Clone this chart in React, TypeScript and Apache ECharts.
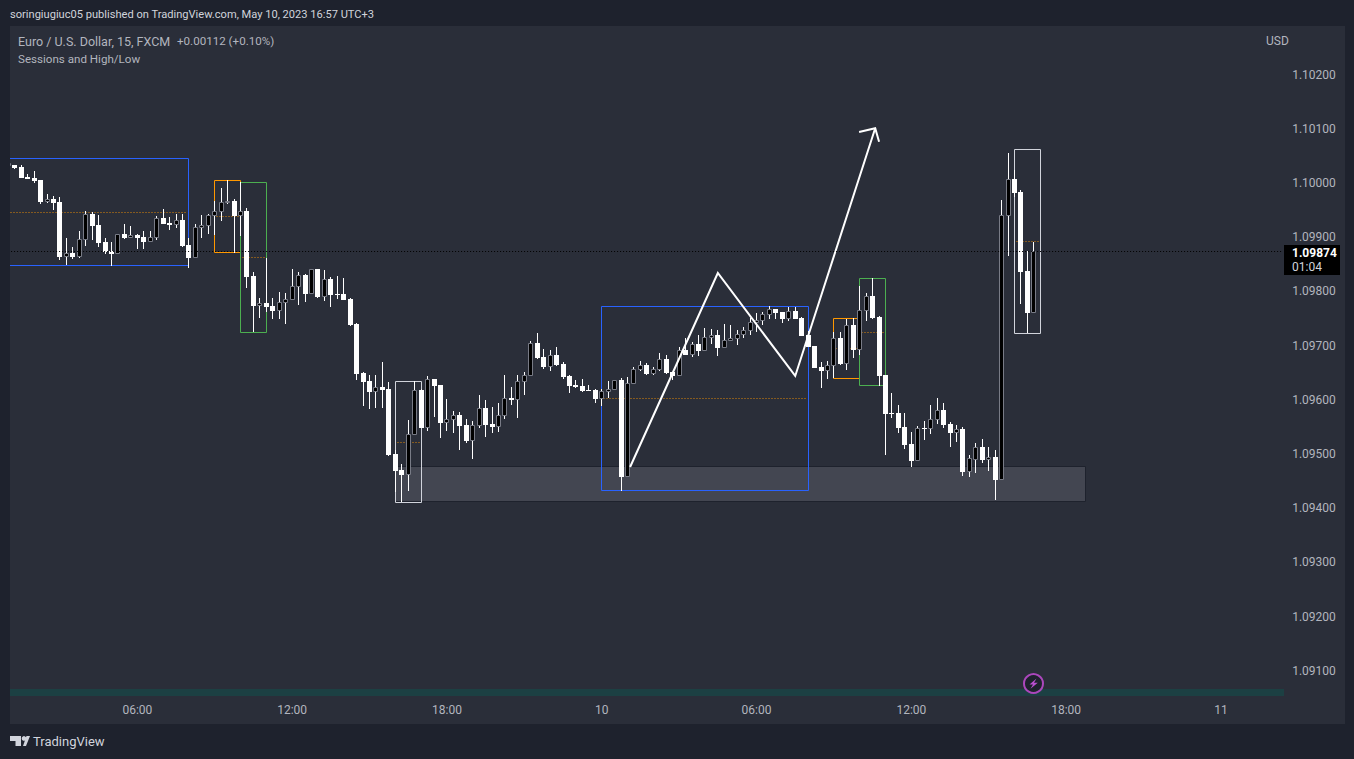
import React, { useEffect, useRef } from "react";
import * as echarts from "echarts";

const opens = [
  1.10031,
  1.10033,1.10030,1.10011,1.10009,1.10006,1.09965,1.09970,1.09965,1.09863,1.09871,
  1.09863,1.09895,1.09943,1.09922,1.09891,1.09875,1.09869,1.09906,1.09898,1.09904,
  1.09900,1.09891,1.09898,1.09935,1.09926,1.09922,1.09932,1.09886,1.09862,1.09917,
  1.09921,1.09939,1.09947,1.09963,1.09967,1.09939,1.09948,1.09828,1.09773,1.09779,
  1.09773,1.09764,1.09779,1.09784,1.09808,1.09830,1.09795,1.09841,1.09790,1.09823,
  1.09795,1.09795,1.09786,1.09740,1.09650,1.09635,1.09614,1.09624,1.09620,1.09500,
  1.09470,1.09461,1.09535,1.09618,1.09548,1.09638,1.09627,1.09557,1.09563,1.09572,
  1.09554,1.09524,1.09552,1.09585,1.09555,1.09550,1.09570,1.09603,1.09600,1.09633,
  1.09644,1.09705,1.09679,1.09660,1.09683,1.09666,1.09644,1.09627,1.09625,1.09618,
  1.09618,1.09601,1.09614,1.09618,1.09636,1.09458,1.09629,1.09655,1.09664,1.09648,
  1.09655,1.09675,1.09651,1.09644,1.09692,1.09683,1.09703,1.09690,1.09714,1.09720,
  1.09696,1.09708,1.09712,1.09720,1.09727,1.09742,1.09745,1.09756,1.09768,1.09762,
  1.09749,1.09764,1.09751,1.09720,1.09699,1.09660,1.09653,1.09662,1.09714,1.09666,
  1.09738,1.09692,1.09764,1.09792,1.09753,1.09646,1.09576,1.09576,1.09550,1.09518,
  1.09487,1.09548,1.09546,1.09563,1.09581,1.09555,1.09539,1.09546,1.09467,1.09489,
  1.09513,1.09489,1.09494,1.09452,1.09939,1.10007,1.09983,1.09838,1.09760,
];
const closes = [
  1.10037,
  1.10028,1.10009,1.10007,1.10004,1.09965,1.09970,1.09963,1.09863,1.09870,1.09863,
  1.09897,1.09943,1.09921,1.09889,1.09873,1.09869,1.09906,1.09898,1.09904,1.09898,
  1.09891,1.09900,1.09935,1.09924,1.09922,1.09932,1.09884,1.09862,1.09919,1.09923,
  1.09941,1.09948,1.09965,1.09967,1.09939,1.09948,1.09827,1.09773,1.09779,1.09771,
  1.09764,1.09780,1.09786,1.09810,1.09830,1.09795,1.09841,1.09790,1.09823,1.09793,
  1.09793,1.09784,1.09738,1.09648,1.09633,1.09614,1.09624,1.09618,1.09498,1.09469,
  1.09461,1.09537,1.09618,1.09548,1.09638,1.09625,1.09557,1.09565,1.09572,1.09552,
  1.09524,1.09554,1.09585,1.09554,1.09550,1.09572,1.09603,1.09600,1.09635,1.09646,
  1.09705,1.09677,1.09660,1.09683,1.09664,1.09642,1.09625,1.09624,1.09616,1.09617,
  1.09601,1.09616,1.09620,1.09636,1.09458,1.09631,1.09657,1.09664,1.09648,1.09657,
  1.09675,1.09649,1.09644,1.09692,1.09683,1.09703,1.09690,1.09716,1.09720,1.09696,
  1.09710,1.09714,1.09721,1.09729,1.09744,1.09747,1.09758,1.09768,1.09760,1.09749,
  1.09764,1.09749,1.09718,1.09697,1.09659,1.09653,1.09664,1.09714,1.09666,1.09738,
  1.09692,1.09766,1.09792,1.09751,1.09644,1.09574,1.09574,1.09548,1.09517,1.09487,
  1.09548,1.09546,1.09565,1.09581,1.09553,1.09539,1.09546,1.09467,1.09493,1.09513,
  1.09489,1.09494,1.09452,1.09941,1.10007,1.09982,1.09836,1.09760,1.09874,
];
const lows = [
  1.10031,
  1.10026,1.10009,1.10007,1.10000,1.09961,1.09963,1.09950,1.09858,1.09849,1.09860,
  1.09862,1.09884,1.09895,1.09882,1.09869,1.09847,1.09869,1.09897,1.09898,1.09878,
  1.09878,1.09891,1.09895,1.09924,1.09913,1.09917,1.09882,1.09843,1.09862,1.09899,
  1.09906,1.09904,1.09930,1.09961,1.09871,1.09902,1.09806,1.09725,1.09751,1.09762,
  1.09749,1.09749,1.09740,1.09784,1.09775,1.09780,1.09795,1.09788,1.09782,1.09771,
  1.09786,1.09784,1.09736,1.09637,1.09589,1.09583,1.09585,1.09585,1.09496,1.09430,
  1.09412,1.09432,1.09535,1.09548,1.09542,1.09568,1.09530,1.09542,1.09539,1.09507,
  1.09520,1.09491,1.09548,1.09531,1.09539,1.09541,1.09565,1.09590,1.09566,1.09609,
  1.09644,1.09675,1.09657,1.09653,1.09662,1.09638,1.09613,1.09622,1.09614,1.09616,
  1.09594,1.09589,1.09603,1.09618,1.09432,1.09458,1.09629,1.09653,1.09646,1.09646,
  1.09653,1.09648,1.09637,1.09644,1.09683,1.09679,1.09681,1.09690,1.09703,1.09681,
  1.09696,1.09708,1.09701,1.09714,1.09720,1.09725,1.09738,1.09749,1.09749,1.09742,
  1.09745,1.09749,1.09718,1.09697,1.09659,1.09622,1.09638,1.09640,1.09664,1.09655,
  1.09677,1.09683,1.09745,1.09749,1.09625,1.09498,1.09566,1.09539,1.09509,1.09476,
  1.09487,1.09526,1.09537,1.09555,1.09548,1.09513,1.09522,1.09459,1.09457,1.09465,
  1.09483,1.09469,1.09415,1.09452,1.09865,1.09975,1.09777,1.09723,1.09760,
];
const highs = [
  1.10037,
  1.10033,1.10033,1.10017,1.10022,1.10006,1.09980,1.09976,1.09974,1.09898,1.09882,
  1.09911,1.09948,1.09946,1.09941,1.09898,1.09891,1.09906,1.09924,1.09921,1.09906,
  1.09911,1.09911,1.09939,1.09952,1.09937,1.09943,1.09943,1.09898,1.09924,1.09941,
  1.09943,1.09967,1.09991,1.10006,1.09970,1.10002,1.09954,1.09836,1.09788,1.09862,
  1.09788,1.09799,1.09797,1.09841,1.09836,1.09832,1.09841,1.09841,1.09839,1.09827,
  1.09828,1.09825,1.09788,1.09742,1.09651,1.09646,1.09646,1.09670,1.09633,1.09507,
  1.09482,1.09563,1.09635,1.09620,1.09644,1.09638,1.09627,1.09601,1.09579,1.09578,
  1.09565,1.09561,1.09609,1.09600,1.09587,1.09594,1.09646,1.09624,1.09646,1.09651,
  1.09708,1.09723,1.09694,1.09692,1.09697,1.09670,1.09646,1.09636,1.09638,1.09627,
  1.09620,1.09620,1.09635,1.09636,1.09640,1.09642,1.09660,1.09672,1.09668,1.09661,
  1.09686,1.09683,1.09651,1.09697,1.09714,1.09707,1.09720,1.09732,1.09731,1.09729,
  1.09740,1.09738,1.09729,1.09734,1.09751,1.09760,1.09762,1.09773,1.09768,1.09762,
  1.09771,1.09771,1.09753,1.09727,1.09699,1.09670,1.09672,1.09725,1.09725,1.09749,
  1.09751,1.09810,1.09797,1.09825,1.09755,1.09646,1.09613,1.09590,1.09576,1.09541,
  1.09552,1.09561,1.09590,1.09603,1.09594,1.09559,1.09553,1.09550,1.09498,1.09520,
  1.09528,1.09513,1.09507,1.09969,1.10055,1.10024,1.09987,1.09875,1.09891,
];

const lastPrice = 1.09874;
const priceTag = "1.09874";
const countdown = "01:04";

const tickIndexes = [20, 44, 68, 92, 116, 140, 164, 188];
const tickLabels = ["06:00", "12:00", "18:00", "10", "06:00", "12:00", "18:00", "11"];

// session boxes: [start bar, end bar, high, low]
const blueBoxes = [[0, 28, 1.10046, 1.09848], [92, 124, 1.09773, 1.09433]];
const orangeBoxes = [[32, 36, 1.10005, 1.09872], [128, 132, 1.09751, 1.09641]];
const greenBoxes = [[36, 40, 1.10001, 1.09726], [132, 136, 1.09824, 1.09627]];
const greyBoxes = [[60, 64, 1.09634, 1.09411], [156, 160, 1.10062, 1.09723]];
const zone = [60, 167, 1.09478, 1.09413];

const zigzagBars = [96.4, 110, 122, 134.4];
const zigzagPrices = [1.09476, 1.09834, 1.09644, 1.10101];
const arrowBars = [131.9, 134.4, 135];
const arrowPrices = [1.10094, 1.10101, 1.10076];

const TOTAL_BARS = 198;
const categories: string[] = [];
for (let i = 0; i < TOTAL_BARS; i++) {
  const t = new Date(Date.UTC(2023, 4, 9, 1, 15 * i));
  const p = (n: number) => String(n).padStart(2, "0");
  categories.push(`05-${p(t.getUTCDate())} ${p(t.getUTCHours())}:${p(t.getUTCMinutes())}`);
}

const BAR = 6.45;
const TEXT = "#b2b5be";
const FONT = "Roboto";
const OUTER = "#1e222d";
const PANE = "#2a2e39";

function at(api: any, bar: number, price: number) {
  const f = Math.floor(bar);
  const p = api.coord([f, price]);
  return [p[0] + (bar - f) * BAR, p[1]];
}

function boxSeries(boxes: number[][], color: string) {
  return {
    type: "custom",
    z: 1,
    silent: true,
    data: boxes,
    encode: { x: 0, y: 2 },
    renderItem: (_: any, api: any) => {
      const a = at(api, api.value(0), api.value(2));
      const b = at(api, api.value(1), api.value(3));
      const mid = (api.value(2) + api.value(3)) / 2;
      const m = at(api, api.value(0), mid);
      const x1 = Math.floor(a[0]) + 0.5, x2 = Math.floor(b[0]) + 0.5;
      const y1 = Math.round(a[1]) + 0.5, y2 = Math.round(b[1]) + 0.5;
      const my = Math.round(m[1]) + 0.5;
      return {
        type: "group",
        children: [
          { type: "polyline", shape: { points: [[x1, y1], [x2, y1], [x2, y2], [x1, y2], [x1, y1]] }, style: { fill: "none", stroke: color, lineWidth: 1 } },
          { type: "line", shape: { x1: x1 + 2, y1: my, x2: x2 - 1, y2: my }, style: { stroke: "#ff9800", opacity: 0.85, lineWidth: 1, lineDash: [1, 2] } },
        ],
      };
    },
  };
}

function pathSeries(bars: number[], prices: number[]) {
  return {
    type: "custom",
    z: 4,
    silent: true,
    data: bars.map((b, i) => [Math.floor(b), prices[i]]),
    encode: { x: 0, y: 1 },
    renderItem: (params: any, api: any) => {
      if (params.dataIndex !== 0) return null;
      const points = bars.map((b, i) => at(api, b, prices[i]));
      return { type: "polyline", shape: { points }, style: { stroke: "#ffffff", lineWidth: 2, fill: "none" } };
    },
  };
}

const title = (text: string, x: number, y: number, fill: string, font: string, extra: any = {}) => ({
  type: "text",
  z: 100,
  x,
  y,
  style: { text, fill, font, verticalAlign: "middle", ...extra },
});

export default function App() {
  const ref = useRef<HTMLDivElement>(null);
  useEffect(() => {
    const chart = echarts.init(ref.current!, undefined, { renderer: "svg" });
    chart.setOption({
      animation: false,
      backgroundColor: "transparent",
      grid: { left: 5.1, top: 20.4, width: TOTAL_BARS * BAR, height: 704.6, containLabel: false },
      xAxis: {
        type: "category",
        data: categories,
        boundaryGap: true,
        axisLine: { show: false },
        axisTick: { show: false },
        splitLine: { show: false },
        axisLabel: {
          inside: true,
          margin: 9,
          color: TEXT,
          fontFamily: FONT,
          fontSize: 12,
          interval: (i: number) => tickIndexes.includes(i),
          formatter: (_: string, i: number) => tickLabels[tickIndexes.indexOf(i)] ?? "",
        },
      },
      yAxis: {
        type: "value",
        position: "right",
        min: 1.09,
        max: 1.103,
        interval: 0.001,
        axisLine: { show: false },
        axisTick: { show: false },
        splitLine: { show: false },
        axisLabel: {
          showMinLabel: false,
          showMaxLabel: false,
          margin: 10,
          color: TEXT,
          fontFamily: FONT,
          fontSize: 12,
          formatter: (v: number) => v.toFixed(5),
        },
      },
      series: [
        {
          type: "custom",
          z: 0,
          silent: true,
          data: [zone],
          encode: { x: 0, y: 2 },
          renderItem: (_: any, api: any) => {
            const a = at(api, api.value(0), api.value(2));
            const b = at(api, api.value(1), api.value(3));
            return {
              type: "rect",
              shape: { x: Math.round(a[0]) + 0.5, y: Math.round(a[1]) + 0.5, width: Math.round(b[0] - a[0]), height: Math.round(b[1] - a[1]) },
              style: { fill: "#434651", stroke: "#1e222d", lineWidth: 1 },
            };
          },
        },
        boxSeries(blueBoxes, "#2962ff"),
        boxSeries(orangeBoxes, "#ff9800"),
        boxSeries(greenBoxes, "#4caf50"),
        boxSeries(greyBoxes, "#d1d4dc"),
        {
          type: "custom",
          name: "EURUSD",
          z: 3,
          silent: true,
          data: opens.map((o, i) => [i, o, closes[i], lows[i], highs[i]]),
          encode: { x: 0, y: [1, 2, 3, 4] },
          renderItem: (_: any, api: any) => {
            const i = api.value(0);
            const o = api.coord([i, api.value(1)]);
            const c = api.coord([i, api.value(2)]);
            const l = api.coord([i, api.value(3)]);
            const h = api.coord([i, api.value(4)]);
            const cx = Math.floor(o[0]) + 0.5;
            const top = Math.round(Math.min(o[1], c[1]));
            const bot = Math.round(Math.max(o[1], c[1]));
            const up = api.value(2) >= api.value(1);
            const wick = {
              type: "line",
              shape: { x1: cx, y1: Math.round(h[1]), x2: cx, y2: Math.round(l[1]) },
              style: { stroke: "#ffffff", lineWidth: 1 },
            };
            const body = up
              ? { type: "rect", shape: { x: cx - 2, y: top + 0.5, width: 4, height: Math.max(bot - top - 1, 1) }, style: { fill: "#000000", stroke: "#787b86", lineWidth: 1 } }
              : { type: "rect", shape: { x: cx - 2.5, y: top, width: 5, height: Math.max(bot - top, 1) }, style: { fill: "#ffffff" } };
            return { type: "group", children: [wick, body] };
          },
          markLine: {
            silent: true,
            symbol: "none",
            precision: 5,
            label: { show: false },
            lineStyle: { color: "#000000", width: 1, type: [1, 2] },
            data: [{ yAxis: lastPrice }],
          },
        },
        pathSeries(zigzagBars, zigzagPrices),
        pathSeries(arrowBars, arrowPrices),
      ],
      graphic: {
        z: 100,
        elements: [
          { type: "rect", z: 100, shape: { x: 0, y: 0, width: 10, height: 759 }, style: { fill: OUTER } },
          { type: "rect", z: 100, shape: { x: 10, y: 689, width: 1274, height: 7 }, style: { fill: "#1c4043" } },
          { type: "circle", z: 101, shape: { cx: 1033.5, cy: 683.5, r: 9.5 }, style: { fill: "#1e222d", stroke: "#ab47bc", lineWidth: 2 } },
          {
            type: "polygon",
            z: 102,
            shape: { points: [[1036.5, 678.5], [1029.5, 684.5], [1033, 684.5], [1030.5, 688.8], [1037.8, 682.8], [1034, 682.8]] },
            style: { fill: "#ba4fd0" },
          },
          { type: "rect", z: 100, shape: { x: 1284, y: 245, width: 56, height: 30 }, style: { fill: "#000000" } },
          title(priceTag, 1292, 253, "#ffffff", `bold 12px ${FONT}`),
          title(countdown, 1292, 267, "#d1d4dc", `12px ${FONT}`),
          title("soringiugiuc05 published on TradingView.com, May 10, 2023 16:57 UTC+3", 10, 14, "#d1d4dc", `11.1px ${FONT}`),
          title("Euro / U.S. Dollar, 15, FXCM", 18, 41, TEXT, `12.5px ${FONT}`),
          title("+0.00112 (+0.10%)", 177, 41, TEXT, `11.6px ${FONT}`),
          title("Sessions and High/Low", 18, 59, TEXT, `11.6px ${FONT}`),
          title("USD", 1266, 41, TEXT, `12px ${FONT}`),
          title("TradingView", 33, 741, "#d1d4dc", `13px ${FONT}`),
          { type: "polygon", z: 100, shape: { points: [[10, 736], [21, 736], [21, 746], [15.5, 746], [15.5, 741], [10, 741]] }, style: { fill: "#d1d4dc" } },
          { type: "circle", z: 100, shape: { cx: 24, cy: 738.4, r: 2.3 }, style: { fill: "#d1d4dc" } },
          { type: "polygon", z: 100, shape: { points: [[23, 746], [26.5, 736], [30, 736], [26, 746]] }, style: { fill: "#d1d4dc" } },
        ],
      },
    });
    return () => chart.dispose();
  }, []);
  return (
    <div style={{ position: "absolute", left: 0, top: 0, width: 1354, height: 759, background: OUTER, overflow: "hidden" }}>
      <div style={{ position: "absolute", left: 10, top: 26, width: 1335, height: 698, background: PANE }} />
      <div ref={ref} style={{ position: "absolute", left: 0, top: 0, width: 1354, height: 759 }} />
    </div>
  );
}
